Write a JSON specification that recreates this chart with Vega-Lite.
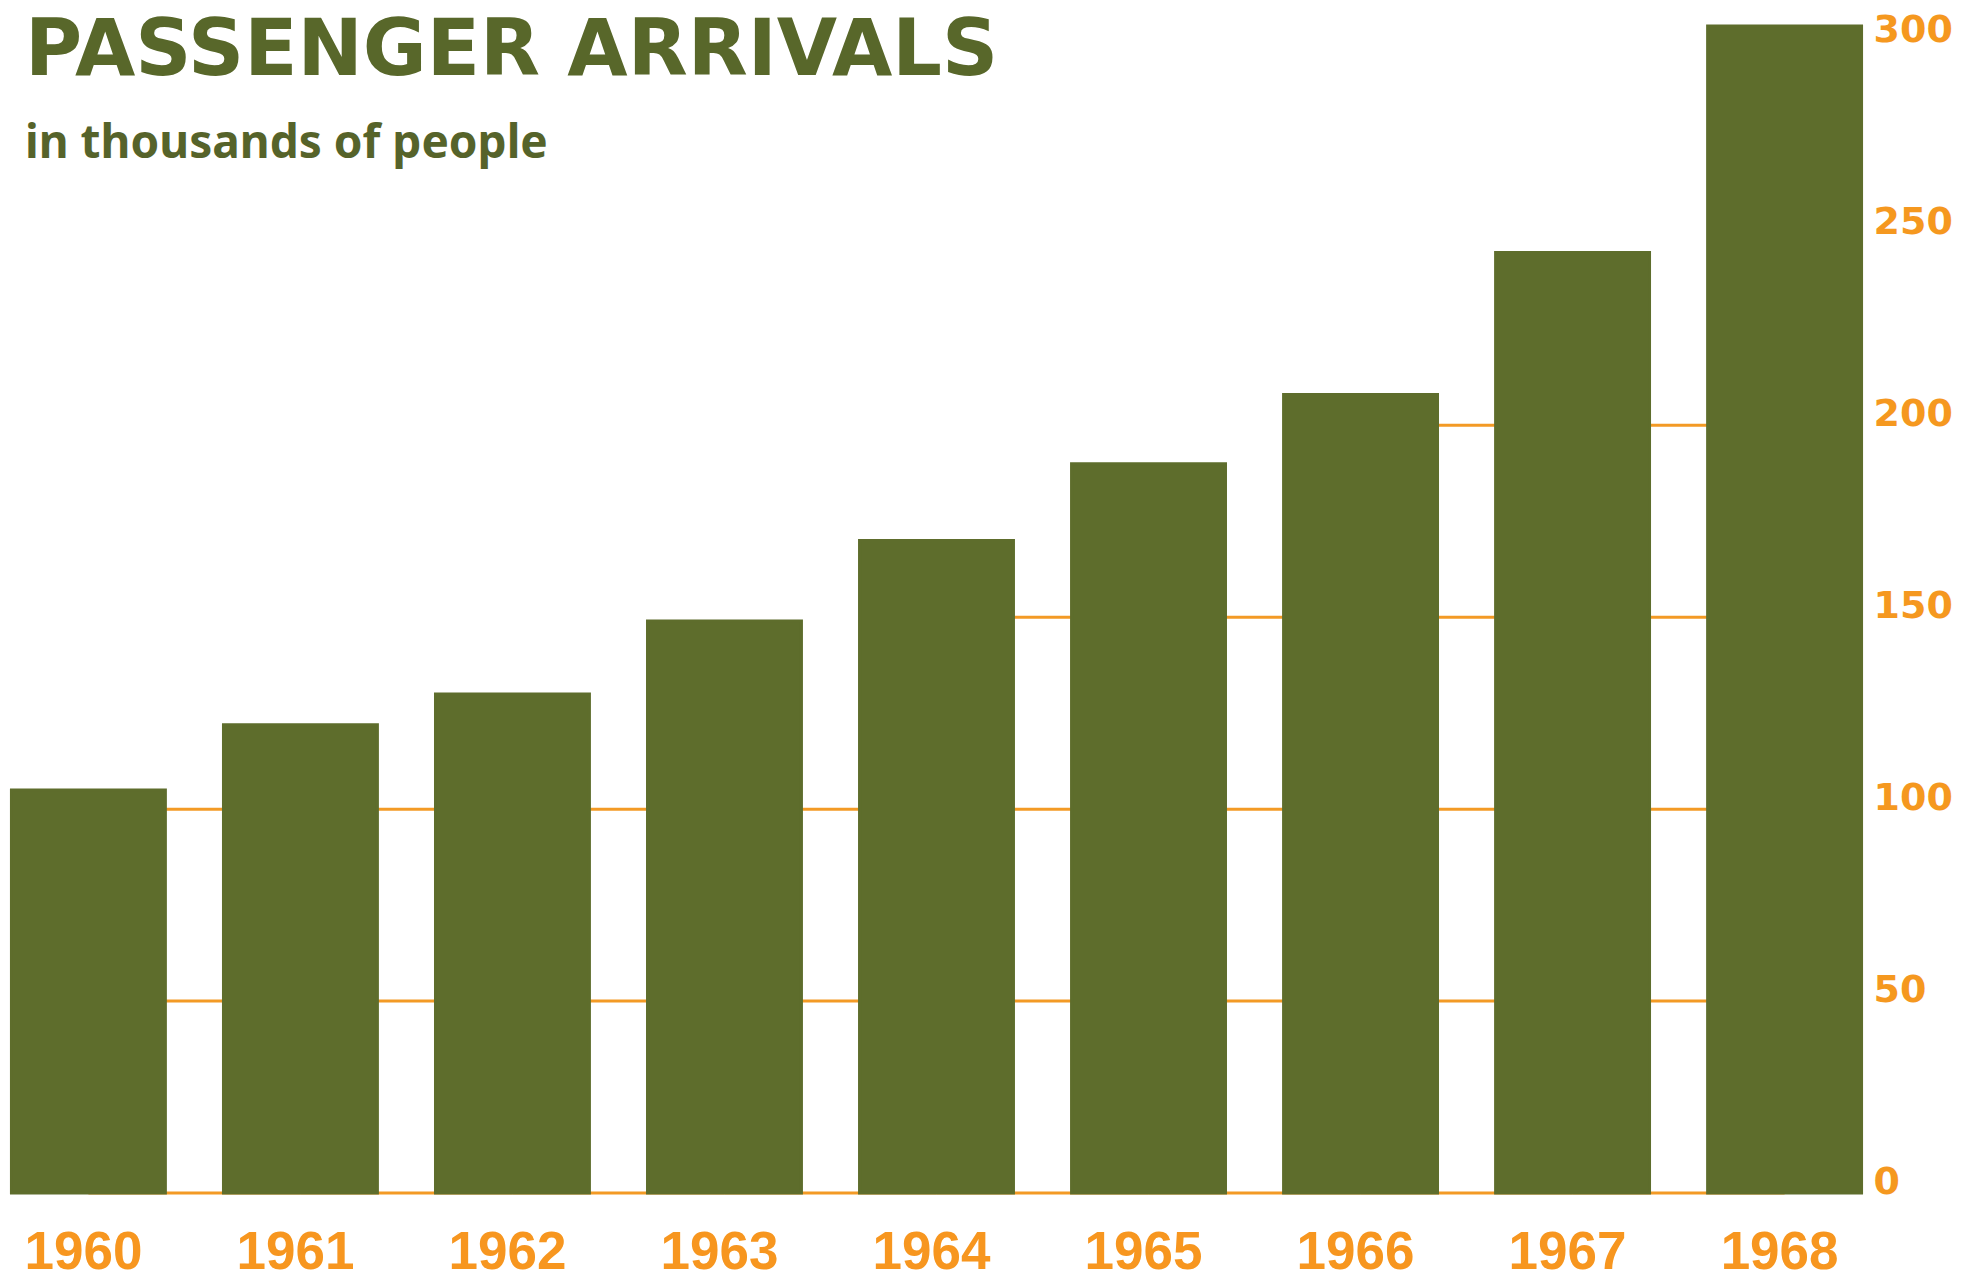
{
  "$schema": "https://vega.github.io/schema/vega-lite/v6.json",
  "width": 1873,
  "height": 1190,
  "autosize": {"type": "none"},
  "padding": {"left": 0, "top": 3, "right": 94, "bottom": 85},
  "background": "white",
  "config": {"view": {"stroke": null}},
  "title": {
    "text": "PASSENGER ARRIVALS",
    "subtitle": "in thousands of people",
    "anchor": "start",
    "frame": "group",
    "orient": "top",
    "offset": -164,
    "dx": 25,
    "font": "DejaVu Sans",
    "fontSize": 78,
    "fontWeight": "bold",
    "color": "#58672a",
    "subtitleFont": "Noto Sans",
    "subtitleFontSize": 46,
    "subtitleFontWeight": "bold",
    "subtitleColor": "#56632a",
    "subtitlePadding": 31
  },
  "datasets": {
    "bars": [
      {"year": "1960", "arrivals": 105},
      {"year": "1961", "arrivals": 122},
      {"year": "1962", "arrivals": 130},
      {"year": "1963", "arrivals": 149},
      {"year": "1964", "arrivals": 170},
      {"year": "1965", "arrivals": 190},
      {"year": "1966", "arrivals": 208},
      {"year": "1967", "arrivals": 245},
      {"year": "1968", "arrivals": 304}
    ],
    "grid": [
      {"from": "1960", "to": "1961", "level": 0},
      {"from": "1961", "to": "1962", "level": 0},
      {"from": "1962", "to": "1963", "level": 0},
      {"from": "1963", "to": "1964", "level": 0},
      {"from": "1964", "to": "1965", "level": 0},
      {"from": "1965", "to": "1966", "level": 0},
      {"from": "1966", "to": "1967", "level": 0},
      {"from": "1967", "to": "1968", "level": 0},
      {"from": "1960", "to": "1961", "level": 50},
      {"from": "1961", "to": "1962", "level": 50},
      {"from": "1962", "to": "1963", "level": 50},
      {"from": "1963", "to": "1964", "level": 50},
      {"from": "1964", "to": "1965", "level": 50},
      {"from": "1965", "to": "1966", "level": 50},
      {"from": "1966", "to": "1967", "level": 50},
      {"from": "1967", "to": "1968", "level": 50},
      {"from": "1960", "to": "1961", "level": 100},
      {"from": "1961", "to": "1962", "level": 100},
      {"from": "1962", "to": "1963", "level": 100},
      {"from": "1963", "to": "1964", "level": 100},
      {"from": "1964", "to": "1965", "level": 100},
      {"from": "1965", "to": "1966", "level": 100},
      {"from": "1966", "to": "1967", "level": 100},
      {"from": "1967", "to": "1968", "level": 100},
      {"from": "1964", "to": "1965", "level": 150},
      {"from": "1965", "to": "1966", "level": 150},
      {"from": "1966", "to": "1967", "level": 150},
      {"from": "1967", "to": "1968", "level": 150},
      {"from": "1966", "to": "1967", "level": 200},
      {"from": "1967", "to": "1968", "level": 200}
    ]
  },
  "layer": [
    {
      "data": {"name": "grid"},
      "mark": {"type": "rule", "stroke": "#f39a25", "strokeWidth": 3, "strokeCap": "butt"},
      "encoding": {
        "x": {"field": "from", "type": "nominal", "title": null},
        "x2": {"field": "to"},
        "y": {"field": "level", "type": "quantitative", "title": null}
      }
    },
    {
      "data": {"name": "bars"},
      "mark": {"type": "bar", "fill": "#5e6d2c", "stroke": "#5e6d2c", "strokeWidth": 3},
      "encoding": {
        "x": {
          "field": "year",
          "type": "nominal",
          "title": null,
          "sort": "ascending",
          "scale": {"type": "band", "paddingInner": 0.274, "paddingOuter": 0.054},
          "axis": {
            "orient": "bottom",
            "domain": false,
            "ticks": false,
            "tickSize": 0,
            "grid": false,
            "labelAngle": 0,
            "labelAlign": "center",
            "labelFont": "Liberation Sans",
            "labelFontWeight": "bold",
            "labelFontSize": 53,
            "labelColor": "#f7961f",
            "labelPadding": 59,
            "labelOffset": -5,
            "title": null
          }
        },
        "y": {
          "field": "arrivals",
          "type": "quantitative",
          "title": null,
          "scale": {"domain": [0, 310], "nice": false, "zero": true},
          "axis": {
            "orient": "right",
            "values": [0, 50, 100, 150, 200, 250, 300],
            "domain": false,
            "ticks": false,
            "tickSize": 0,
            "grid": false,
            "labelFont": "DejaVu Sans",
            "labelFontWeight": "bold",
            "labelFontSize": 38,
            "labelColor": "#f5981f",
            "labelBaseline": "alphabetic",
            "labelAlign": "left",
            "labelPadding": 0,
            "labelFlush": false,
            "title": null
          }
        }
      }
    }
  ]
}
